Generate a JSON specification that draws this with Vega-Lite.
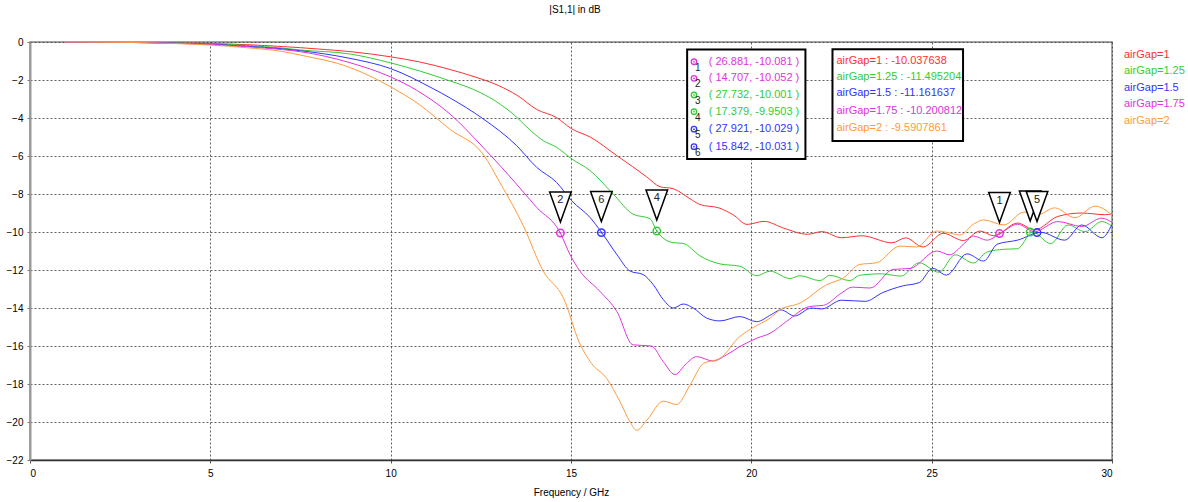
{
 "$schema": "https://vega.github.io/schema/vega-lite/v6.json",
 "width": 1082, "height": 418,
 "autosize": {"type": "none"},
 "padding": {"left": 30, "top": 42, "right": 76, "bottom": 42},
 "background": "white",
 "title": {"text": "|S1,1| in dB", "fontSize": 10, "font": "Liberation Sans", "fontWeight": "normal", "anchor": "middle", "frame": "group", "offset": 22, "dx": 4, "color": "#000"},
 "config": {"view": {"stroke": "#888", "strokeWidth": 1.5}, "font": "Liberation Sans"},
 "datasets": {
  "curves": [
   {"f":1,"db":0,"s":"airGap=1"},{"f":2,"db":-0.01,"s":"airGap=1"},{"f":3,"db":-0.02,"s":"airGap=1"},{"f":4,"db":-0.04,"s":"airGap=1"},{"f":5,"db":-0.08,"s":"airGap=1"},{"f":6,"db":-0.14,"s":"airGap=1"},{"f":7,"db":-0.24,"s":"airGap=1"},{"f":7.5,"db":-0.3,"s":"airGap=1"},{"f":8,"db":-0.37,"s":"airGap=1"},{"f":8.9,"db":-0.51,"s":"airGap=1"},{"f":10,"db":-0.78,"s":"airGap=1"},{"f":10.8,"db":-1.05,"s":"airGap=1"},{"f":11.65,"db":-1.45,"s":"airGap=1"},{"f":12.34,"db":-1.84,"s":"airGap=1"},{"f":13,"db":-2.3,"s":"airGap=1"},{"f":13.5,"db":-2.8,"s":"airGap=1"},{"f":14.05,"db":-3.55,"s":"airGap=1"},{"f":14.6,"db":-3.98,"s":"airGap=1"},{"f":15.02,"db":-4.57,"s":"airGap=1"},{"f":15.53,"db":-5.0,"s":"airGap=1"},{"f":16.27,"db":-5.98,"s":"airGap=1"},{"f":16.7,"db":-6.55,"s":"airGap=1"},{"f":17.1,"db":-7.1,"s":"airGap=1"},{"f":17.47,"db":-7.62,"s":"airGap=1"},{"f":17.83,"db":-7.72,"s":"airGap=1"},{"f":18.3,"db":-8.25,"s":"airGap=1"},{"f":18.57,"db":-8.55,"s":"airGap=1"},{"f":19.13,"db":-8.75,"s":"airGap=1"},{"f":19.5,"db":-9.1,"s":"airGap=1"},{"f":19.88,"db":-9.6,"s":"airGap=1"},{"f":20.35,"db":-9.44,"s":"airGap=1"},{"f":20.9,"db":-9.8,"s":"airGap=1"},{"f":21.56,"db":-10.12,"s":"airGap=1"},{"f":21.95,"db":-9.98,"s":"airGap=1"},{"f":22.5,"db":-10.3,"s":"airGap=1"},{"f":23.07,"db":-10.2,"s":"airGap=1"},{"f":23.9,"db":-10.57,"s":"airGap=1"},{"f":24.28,"db":-10.31,"s":"airGap=1"},{"f":24.76,"db":-10.79,"s":"airGap=1"},{"f":25.32,"db":-10.07,"s":"airGap=1"},{"f":25.88,"db":-10.45,"s":"airGap=1"},{"f":26.34,"db":-9.95,"s":"airGap=1"},{"f":26.72,"db":-10.2,"s":"airGap=1"},{"f":27.38,"db":-9.53,"s":"airGap=1"},{"f":27.85,"db":-9.89,"s":"airGap=1"},{"f":28.5,"db":-9.18,"s":"airGap=1"},{"f":29.16,"db":-9.0,"s":"airGap=1"},{"f":29.8,"db":-9.09,"s":"airGap=1"},{"f":30,"db":-9.05,"s":"airGap=1"},

   {"f":1,"db":0,"s":"airGap=1.25"},{"f":2,"db":-0.01,"s":"airGap=1.25"},{"f":3,"db":-0.02,"s":"airGap=1.25"},{"f":4,"db":-0.05,"s":"airGap=1.25"},{"f":5,"db":-0.1,"s":"airGap=1.25"},{"f":6,"db":-0.18,"s":"airGap=1.25"},{"f":7,"db":-0.32,"s":"airGap=1.25"},{"f":7.5,"db":-0.42,"s":"airGap=1.25"},{"f":8.87,"db":-0.63,"s":"airGap=1.25"},{"f":10,"db":-1.1,"s":"airGap=1.25"},{"f":11.65,"db":-2.05,"s":"airGap=1.25"},{"f":12.3,"db":-2.5,"s":"airGap=1.25"},{"f":12.9,"db":-3.1,"s":"airGap=1.25"},{"f":13.49,"db":-3.95,"s":"airGap=1.25"},{"f":13.9,"db":-4.7,"s":"airGap=1.25"},{"f":14.23,"db":-5.19,"s":"airGap=1.25"},{"f":14.6,"db":-5.54,"s":"airGap=1.25"},{"f":15.02,"db":-6.15,"s":"airGap=1.25"},{"f":15.53,"db":-6.77,"s":"airGap=1.25"},{"f":16.17,"db":-8.0,"s":"airGap=1.25"},{"f":16.72,"db":-9.06,"s":"airGap=1.25"},{"f":17.19,"db":-9.3,"s":"airGap=1.25"},{"f":17.38,"db":-9.95,"s":"airGap=1.25"},{"f":17.83,"db":-10.56,"s":"airGap=1.25"},{"f":18.11,"db":-10.6,"s":"airGap=1.25"},{"f":18.57,"db":-11.25,"s":"airGap=1.25"},{"f":19.13,"db":-11.68,"s":"airGap=1.25"},{"f":19.68,"db":-11.8,"s":"airGap=1.25"},{"f":20.15,"db":-12.3,"s":"airGap=1.25"},{"f":20.52,"db":-12.06,"s":"airGap=1.25"},{"f":21.07,"db":-12.45,"s":"airGap=1.25"},{"f":21.35,"db":-12.3,"s":"airGap=1.25"},{"f":21.9,"db":-12.56,"s":"airGap=1.25"},{"f":22.18,"db":-12.28,"s":"airGap=1.25"},{"f":22.73,"db":-12.56,"s":"airGap=1.25"},{"f":23.0,"db":-12.28,"s":"airGap=1.25"},{"f":23.6,"db":-12.2,"s":"airGap=1.25"},{"f":24.15,"db":-12.32,"s":"airGap=1.25"},{"f":24.65,"db":-11.62,"s":"airGap=1.25"},{"f":25.2,"db":-12.12,"s":"airGap=1.25"},{"f":25.65,"db":-11.2,"s":"airGap=1.25"},{"f":26.16,"db":-11.63,"s":"airGap=1.25"},{"f":26.53,"db":-11.06,"s":"airGap=1.25"},{"f":27.0,"db":-10.91,"s":"airGap=1.25"},{"f":27.38,"db":-10.88,"s":"airGap=1.25"},{"f":27.8,"db":-10.0,"s":"airGap=1.25"},{"f":28.3,"db":-10.61,"s":"airGap=1.25"},{"f":28.78,"db":-9.63,"s":"airGap=1.25"},{"f":29.25,"db":-9.98,"s":"airGap=1.25"},{"f":29.72,"db":-9.45,"s":"airGap=1.25"},{"f":30,"db":-9.7,"s":"airGap=1.25"},

   {"f":1,"db":0,"s":"airGap=1.5"},{"f":2,"db":-0.01,"s":"airGap=1.5"},{"f":3,"db":-0.03,"s":"airGap=1.5"},{"f":4,"db":-0.06,"s":"airGap=1.5"},{"f":5,"db":-0.12,"s":"airGap=1.5"},{"f":6,"db":-0.22,"s":"airGap=1.5"},{"f":7,"db":-0.36,"s":"airGap=1.5"},{"f":7.5,"db":-0.46,"s":"airGap=1.5"},{"f":8.87,"db":-0.86,"s":"airGap=1.5"},{"f":10,"db":-1.4,"s":"airGap=1.5"},{"f":11.17,"db":-2.45,"s":"airGap=1.5"},{"f":11.65,"db":-2.95,"s":"airGap=1.5"},{"f":12.56,"db":-4.04,"s":"airGap=1.5"},{"f":13.49,"db":-5.45,"s":"airGap=1.5"},{"f":14.05,"db":-6.6,"s":"airGap=1.5"},{"f":14.6,"db":-7.39,"s":"airGap=1.5"},{"f":15.02,"db":-8.36,"s":"airGap=1.5"},{"f":15.53,"db":-9.24,"s":"airGap=1.5"},{"f":15.85,"db":-10.03,"s":"airGap=1.5"},{"f":16.27,"db":-11.18,"s":"airGap=1.5"},{"f":16.64,"db":-12.06,"s":"airGap=1.5"},{"f":17.0,"db":-12.24,"s":"airGap=1.5"},{"f":17.28,"db":-12.77,"s":"airGap=1.5"},{"f":17.56,"db":-13.56,"s":"airGap=1.5"},{"f":17.84,"db":-14.0,"s":"airGap=1.5"},{"f":18.11,"db":-13.79,"s":"airGap=1.5"},{"f":18.39,"db":-14.0,"s":"airGap=1.5"},{"f":18.76,"db":-14.53,"s":"airGap=1.5"},{"f":19.13,"db":-14.68,"s":"airGap=1.5"},{"f":19.68,"db":-14.45,"s":"airGap=1.5"},{"f":20.15,"db":-14.72,"s":"airGap=1.5"},{"f":20.55,"db":-14.35,"s":"airGap=1.5"},{"f":20.82,"db":-14.1,"s":"airGap=1.5"},{"f":21.2,"db":-14.42,"s":"airGap=1.5"},{"f":21.67,"db":-14.0,"s":"airGap=1.5"},{"f":21.95,"db":-14.05,"s":"airGap=1.5"},{"f":22.5,"db":-13.59,"s":"airGap=1.5"},{"f":23.16,"db":-13.65,"s":"airGap=1.5"},{"f":23.63,"db":-13.2,"s":"airGap=1.5"},{"f":24.19,"db":-12.84,"s":"airGap=1.5"},{"f":24.66,"db":-12.66,"s":"airGap=1.5"},{"f":25.03,"db":-11.91,"s":"airGap=1.5"},{"f":25.41,"db":-12.27,"s":"airGap=1.5"},{"f":25.98,"db":-11.15,"s":"airGap=1.5"},{"f":26.44,"db":-11.53,"s":"airGap=1.5"},{"f":26.82,"db":-10.64,"s":"airGap=1.5"},{"f":27.38,"db":-10.43,"s":"airGap=1.5"},{"f":28.03,"db":-10.02,"s":"airGap=1.5"},{"f":28.69,"db":-10.43,"s":"airGap=1.5"},{"f":29.16,"db":-9.63,"s":"airGap=1.5"},{"f":29.72,"db":-10.3,"s":"airGap=1.5"},{"f":30,"db":-9.6,"s":"airGap=1.5"},

   {"f":1,"db":0,"s":"airGap=1.75"},{"f":2,"db":-0.01,"s":"airGap=1.75"},{"f":3,"db":-0.03,"s":"airGap=1.75"},{"f":4,"db":-0.07,"s":"airGap=1.75"},{"f":5,"db":-0.13,"s":"airGap=1.75"},{"f":6,"db":-0.25,"s":"airGap=1.75"},{"f":7,"db":-0.4,"s":"airGap=1.75"},{"f":7.5,"db":-0.51,"s":"airGap=1.75"},{"f":8.87,"db":-1.09,"s":"airGap=1.75"},{"f":10,"db":-1.84,"s":"airGap=1.75"},{"f":10.72,"db":-2.54,"s":"airGap=1.75"},{"f":11.65,"db":-3.8,"s":"airGap=1.75"},{"f":12.56,"db":-5.54,"s":"airGap=1.75"},{"f":13.49,"db":-7.48,"s":"airGap=1.75"},{"f":14.05,"db":-8.71,"s":"airGap=1.75"},{"f":14.69,"db":-10.0,"s":"airGap=1.75"},{"f":14.97,"db":-11.18,"s":"airGap=1.75"},{"f":15.25,"db":-12.06,"s":"airGap=1.75"},{"f":15.8,"db":-13.12,"s":"airGap=1.75"},{"f":16.27,"db":-14.18,"s":"airGap=1.75"},{"f":16.72,"db":-15.94,"s":"airGap=1.75"},{"f":17.23,"db":-16.0,"s":"airGap=1.75"},{"f":17.56,"db":-16.83,"s":"airGap=1.75"},{"f":17.88,"db":-17.5,"s":"airGap=1.75"},{"f":18.2,"db":-16.92,"s":"airGap=1.75"},{"f":18.48,"db":-16.56,"s":"airGap=1.75"},{"f":18.94,"db":-16.79,"s":"airGap=1.75"},{"f":19.31,"db":-16.47,"s":"airGap=1.75"},{"f":19.68,"db":-16.03,"s":"airGap=1.75"},{"f":20.15,"db":-15.59,"s":"airGap=1.75"},{"f":20.52,"db":-15.33,"s":"airGap=1.75"},{"f":20.98,"db":-14.7,"s":"airGap=1.75"},{"f":21.62,"db":-13.92,"s":"airGap=1.75"},{"f":22.0,"db":-13.86,"s":"airGap=1.75"},{"f":22.5,"db":-13.21,"s":"airGap=1.75"},{"f":22.8,"db":-12.9,"s":"airGap=1.75"},{"f":23.29,"db":-12.95,"s":"airGap=1.75"},{"f":23.93,"db":-11.97,"s":"airGap=1.75"},{"f":24.4,"db":-11.92,"s":"airGap=1.75"},{"f":25.14,"db":-11.0,"s":"airGap=1.75"},{"f":25.5,"db":-11.2,"s":"airGap=1.75"},{"f":25.88,"db":-10.65,"s":"airGap=1.75"},{"f":26.16,"db":-10.21,"s":"airGap=1.75"},{"f":26.53,"db":-10.43,"s":"airGap=1.75"},{"f":26.91,"db":-10.07,"s":"airGap=1.75"},{"f":27.38,"db":-9.59,"s":"airGap=1.75"},{"f":27.85,"db":-9.98,"s":"airGap=1.75"},{"f":28.5,"db":-9.45,"s":"airGap=1.75"},{"f":29.16,"db":-9.71,"s":"airGap=1.75"},{"f":29.72,"db":-9.27,"s":"airGap=1.75"},{"f":30,"db":-9.5,"s":"airGap=1.75"},

   {"f":1,"db":0,"s":"airGap=2"},{"f":2,"db":-0.01,"s":"airGap=2"},{"f":3,"db":-0.03,"s":"airGap=2"},{"f":4,"db":-0.08,"s":"airGap=2"},{"f":5,"db":-0.16,"s":"airGap=2"},{"f":6,"db":-0.3,"s":"airGap=2"},{"f":7,"db":-0.5,"s":"airGap=2"},{"f":7.5,"db":-0.69,"s":"airGap=2"},{"f":8.87,"db":-1.34,"s":"airGap=2"},{"f":10,"db":-2.36,"s":"airGap=2"},{"f":10.8,"db":-3.3,"s":"airGap=2"},{"f":11.65,"db":-4.6,"s":"airGap=2"},{"f":12.56,"db":-5.9,"s":"airGap=2"},{"f":13.03,"db":-7.4,"s":"airGap=2"},{"f":13.68,"db":-9.68,"s":"airGap=2"},{"f":14.23,"db":-12.06,"s":"airGap=2"},{"f":14.79,"db":-13.47,"s":"airGap=2"},{"f":15.25,"db":-15.9,"s":"airGap=2"},{"f":15.57,"db":-16.92,"s":"airGap=2"},{"f":15.99,"db":-17.71,"s":"airGap=2"},{"f":16.36,"db":-18.94,"s":"airGap=2"},{"f":16.64,"db":-20.0,"s":"airGap=2"},{"f":16.82,"db":-20.44,"s":"airGap=2"},{"f":17.1,"db":-19.91,"s":"airGap=2"},{"f":17.56,"db":-18.9,"s":"airGap=2"},{"f":17.93,"db":-19.08,"s":"airGap=2"},{"f":18.3,"db":-18.06,"s":"airGap=2"},{"f":18.67,"db":-16.92,"s":"airGap=2"},{"f":19.13,"db":-16.65,"s":"airGap=2"},{"f":19.68,"db":-15.5,"s":"airGap=2"},{"f":20.05,"db":-15.03,"s":"airGap=2"},{"f":20.52,"db":-14.53,"s":"airGap=2"},{"f":20.8,"db":-14.09,"s":"airGap=2"},{"f":21.35,"db":-13.74,"s":"airGap=2"},{"f":22.09,"db":-12.77,"s":"airGap=2"},{"f":22.55,"db":-12.42,"s":"airGap=2"},{"f":23.0,"db":-11.71,"s":"airGap=2"},{"f":23.47,"db":-11.62,"s":"airGap=2"},{"f":24.12,"db":-10.74,"s":"airGap=2"},{"f":24.58,"db":-10.79,"s":"airGap=2"},{"f":25.14,"db":-9.95,"s":"airGap=2"},{"f":25.5,"db":-10.05,"s":"airGap=2"},{"f":25.78,"db":-10.16,"s":"airGap=2"},{"f":26.16,"db":-9.59,"s":"airGap=2"},{"f":26.44,"db":-9.36,"s":"airGap=2"},{"f":27.0,"db":-9.63,"s":"airGap=2"},{"f":27.56,"db":-8.95,"s":"airGap=2"},{"f":27.94,"db":-9.09,"s":"airGap=2"},{"f":28.41,"db":-8.73,"s":"airGap=2"},{"f":28.97,"db":-9.25,"s":"airGap=2"},{"f":29.53,"db":-8.64,"s":"airGap=2"},{"f":30,"db":-9.1,"s":"airGap=2"}
  ],
  "markers": [
   {"n":1,"f":26.881,"db":-10.081,"s":"airGap=1.75","row":-1.04,"txt":"( 26.881, -10.081 )"},
   {"n":2,"f":14.707,"db":-10.052,"s":"airGap=1.75","row":-1.91,"txt":"( 14.707, -10.052 )"},
   {"n":3,"f":27.732,"db":-10.001,"s":"airGap=1.25","row":-2.79,"txt":"( 27.732, -10.001 )"},
   {"n":4,"f":17.379,"db":-9.9503,"s":"airGap=1.25","row":-3.67,"txt":"( 17.379, -9.9503 )"},
   {"n":5,"f":27.921,"db":-10.029,"s":"airGap=1.5","row":-4.59,"txt":"( 27.921, -10.029 )"},
   {"n":6,"f":15.842,"db":-10.031,"s":"airGap=1.5","row":-5.51,"txt":"( 15.842, -10.031 )"}
  ],
  "values": [
   {"s":"airGap=1","row":-0.98,"txt":"airGap=1 : -10.037638"},
   {"s":"airGap=1.25","row":-1.83,"txt":"airGap=1.25 : -11.495204"},
   {"s":"airGap=1.5","row":-2.70,"txt":"airGap=1.5 : -11.161637"},
   {"s":"airGap=1.75","row":-3.62,"txt":"airGap=1.75 : -10.200812"},
   {"s":"airGap=2","row":-4.54,"txt":"airGap=2 : -9.5907861"}
  ],
  "boxes": [
   {"x1":18.22,"x2":21.50,"y1":-0.39,"y2":-6.16},
   {"x1":22.25,"x2":25.87,"y1":-0.38,"y2":-5.21}
  ]
 },
 "layer": [
  {
   "data": {"name": "curves"},
   "mark": {"type": "line", "strokeWidth": 1, "interpolate": "monotone", "clip": true},
   "encoding": {
    "x": {"field": "f", "type": "quantitative", "scale": {"domain": [0, 30], "nice": false},
     "axis": {"values": [0,5,10,15,20,25,30], "tickCount": 20, "title": "Frequency / GHz", "titleFontSize": 10, "titleFontWeight": "normal", "titleColor": "#000", "titlePadding": 9, "labelFontSize": 10, "labelColor": "#000", "labelPadding": 5, "labelOverlap": false, "tickSize": 3, "tickColor": "#555", "domainColor": "#333", "domainWidth": 1.5, "grid": true, "gridColor": "#444", "gridDash": [2, 2], "gridOpacity": 0.85}},
    "y": {"field": "db", "type": "quantitative", "scale": {"domain": [-22, 0], "nice": false},
     "axis": {"values": [0,-2,-4,-6,-8,-10,-12,-14,-16,-18,-20,-22], "tickCount": 30, "title": null, "labelFontSize": 10, "labelColor": "#000", "labelPadding": 4, "labelOverlap": false, "labelFlush": false, "tickSize": 3, "tickColor": "#777", "domainColor": "#999", "domainWidth": 2, "grid": true, "gridColor": "#444", "gridDash": [2, 2], "gridOpacity": 0.85}},
    "color": {"field": "s", "type": "nominal",
     "scale": {"domain": ["airGap=1","airGap=1.25","airGap=1.5","airGap=1.75","airGap=2"], "range": ["#ff3030","#33cc33","#3333ff","#e033e0","#ff9a3c"]},
     "legend": {"orient": "none", "legendX": 1083, "legendY": 7, "title": null, "symbolSize": 0, "symbolOpacity": 0, "symbolStrokeWidth": 0, "labelOffset": 0, "labelFontSize": 11, "labelLimit": 300, "rowPadding": 4.5,
      "encode": {"labels": {"update": {"fill": {"scale": "color", "field": "value"}}}}}}
   }
  },
  {
   "mark": {"type": "rule", "color": "#000", "strokeWidth": 1.5},
   "encoding": {"x": {"datum": 26.069}}
  },
  {
   "data": {"name": "markers"},
   "mark": {"type": "point", "filled": false, "size": 55, "strokeWidth": 1.5, "opacity": 1},
   "encoding": {"x": {"field": "f", "type": "quantitative"}, "y": {"field": "db", "type": "quantitative"}, "color": {"field": "s", "type": "nominal", "legend": null}}
  },
  {
   "data": {"name": "markers"},
   "mark": {"type": "point", "filled": true, "size": 4, "opacity": 1},
   "encoding": {"x": {"field": "f", "type": "quantitative"}, "y": {"field": "db", "type": "quantitative"}, "color": {"field": "s", "type": "nominal", "legend": null}}
  },
  {
   "data": {"name": "markers"},
   "mark": {"type": "point", "shape": "M-0.72,-1L0.72,-1L0,1Z", "size": 900, "filled": true, "fill": "white", "stroke": "black", "strokeWidth": 1.5, "opacity": 1, "yOffset": -26},
   "encoding": {"x": {"field": "f", "type": "quantitative"}, "y": {"field": "db", "type": "quantitative"}}
  },
  {
   "data": {"name": "markers"},
   "transform": [{"filter": "datum.n != 3"}],
   "mark": {"type": "text", "fontSize": 11, "color": "#222", "baseline": "middle", "dy": -33},
   "encoding": {"x": {"field": "f", "type": "quantitative"}, "y": {"field": "db", "type": "quantitative"}, "text": {"field": "n", "type": "nominal"}}
  },
  {
   "data": {"name": "boxes"},
   "mark": {"type": "rect", "fill": "white", "stroke": "black", "strokeWidth": 2},
   "encoding": {"x": {"field": "x1", "type": "quantitative"}, "x2": {"field": "x2"}, "y": {"field": "y1", "type": "quantitative"}, "y2": {"field": "y2"}}
  },
  {
   "data": {"name": "markers"},
   "mark": {"type": "point", "filled": false, "size": 30, "strokeWidth": 1.3, "opacity": 1},
   "encoding": {"x": {"datum": 18.41, "type": "quantitative"}, "y": {"field": "row", "type": "quantitative"}, "color": {"field": "s", "type": "nominal", "legend": null}}
  },
  {
   "data": {"name": "markers"},
   "mark": {"type": "point", "filled": true, "size": 3, "opacity": 1},
   "encoding": {"x": {"datum": 18.41, "type": "quantitative"}, "y": {"field": "row", "type": "quantitative"}, "color": {"field": "s", "type": "nominal", "legend": null}}
  },
  {
   "data": {"name": "markers"},
   "mark": {"type": "text", "fontSize": 10, "color": "#222", "baseline": "middle", "dy": 6, "dx": 1},
   "encoding": {"x": {"datum": 18.49, "type": "quantitative"}, "y": {"field": "row", "type": "quantitative"}, "text": {"field": "n", "type": "nominal"}}
  },
  {
   "data": {"name": "markers"},
   "mark": {"type": "text", "fontSize": 11, "align": "left", "baseline": "middle"},
   "encoding": {"x": {"datum": 18.82, "type": "quantitative"}, "y": {"field": "row", "type": "quantitative"}, "text": {"field": "txt", "type": "nominal"}, "color": {"field": "s", "type": "nominal", "legend": null}}
  },
  {
   "data": {"name": "values"},
   "mark": {"type": "text", "fontSize": 11, "align": "left", "baseline": "middle"},
   "encoding": {"x": {"datum": 22.36, "type": "quantitative"}, "y": {"field": "row", "type": "quantitative"}, "text": {"field": "txt", "type": "nominal"}, "color": {"field": "s", "type": "nominal", "legend": null}}
  },
  {
   "mark": {"type": "point", "shape": "M-1,-0.41L1,-0.41L1,0.41L-1,0.41Z", "size": 1936, "filled": true, "fill": "white", "stroke": "black", "strokeWidth": 1, "opacity": 1, "yOffset": 15, "clip": false},
   "encoding": {"x": {"datum": 26.069, "type": "quantitative"}, "y": {"datum": -22, "type": "quantitative"}}
  },
  {
   "mark": {"type": "text", "fontSize": 10, "color": "#000", "baseline": "middle", "dy": 15},
   "encoding": {"x": {"datum": 26.069, "type": "quantitative"}, "y": {"datum": -22, "type": "quantitative"}, "text": {"value": "26.069"}}
  }
 ]
}
